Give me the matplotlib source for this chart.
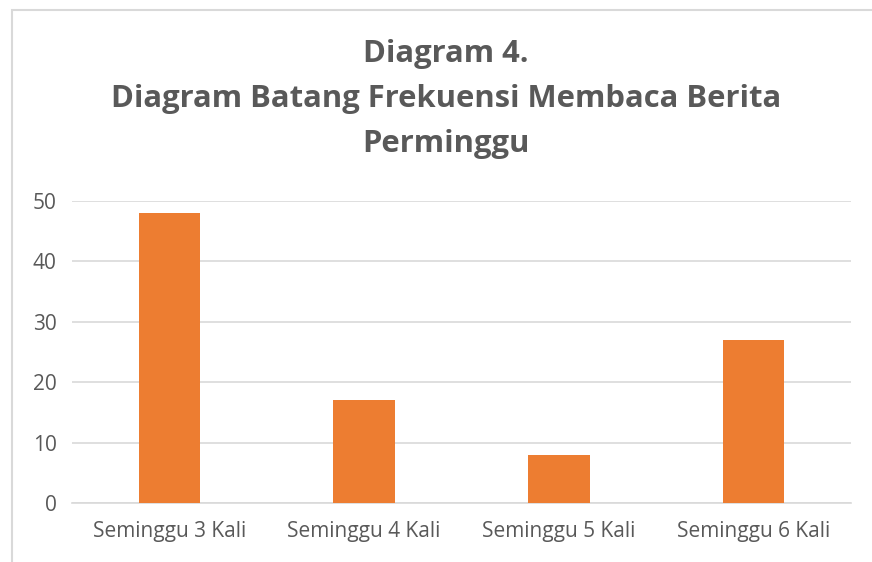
import matplotlib
matplotlib.use("Agg")
import matplotlib.pyplot as plt
from matplotlib.patches import Rectangle

categories = ["Seminggu 3 Kali", "Seminggu 4 Kali", "Seminggu 5 Kali", "Seminggu 6 Kali"]
values = [48, 17, 8, 27]
yticks = [0, 10, 20, 30, 40, 50]
title = "Diagram 4.\nDiagram Batang Frekuensi Membaca Berita\nPerminggu"

text_color = "#595959"
bar_color = "#ED7D31"
grid_color = "#D9D9D9"

plt.rcParams['font.family'] = ['Open Sans', 'DejaVu Sans']

fig = plt.figure(figsize=(8.72, 5.62), dpi=100)
W, H = 872, 562
# chart border
fig.patches.append(Rectangle((12 / W, -0.1), 1.2, (H - 10) / H + 0.1,
                             transform=fig.transFigure, fill=False,
                             edgecolor="#D9D9D9", linewidth=1.5))

ax = fig.add_axes([72 / W, (H - 503) / H, (851 - 72) / W, (503 - 201) / H])
x = list(range(len(categories)))
ax.bar(x, values, width=0.315, color=bar_color, zorder=3)
ax.set_xlim(-0.5, len(categories) - 0.5)
ax.set_ylim(0, 50)
ax.set_yticks(yticks)
ax.set_xticks(x)
ax.set_xticklabels(categories)
ax.yaxis.grid(True, color=grid_color, linewidth=1.2, zorder=0)
ax.set_axisbelow(True)
for s in ["top", "right", "left"]:
    ax.spines[s].set_visible(False)
ax.spines["bottom"].set_color(grid_color)
ax.spines["bottom"].set_linewidth(1.2)
ax.tick_params(axis="both", length=0, labelsize=15, labelcolor=text_color)
ax.tick_params(axis="x", pad=13)
ax.tick_params(axis="y", pad=11)

fig.text(446 / W, 1 - 99 / H, title, ha="center", va="center",
         fontsize=22.3, fontweight="bold", color=text_color, linespacing=1.66)

fig.savefig("out.png", dpi=100)
